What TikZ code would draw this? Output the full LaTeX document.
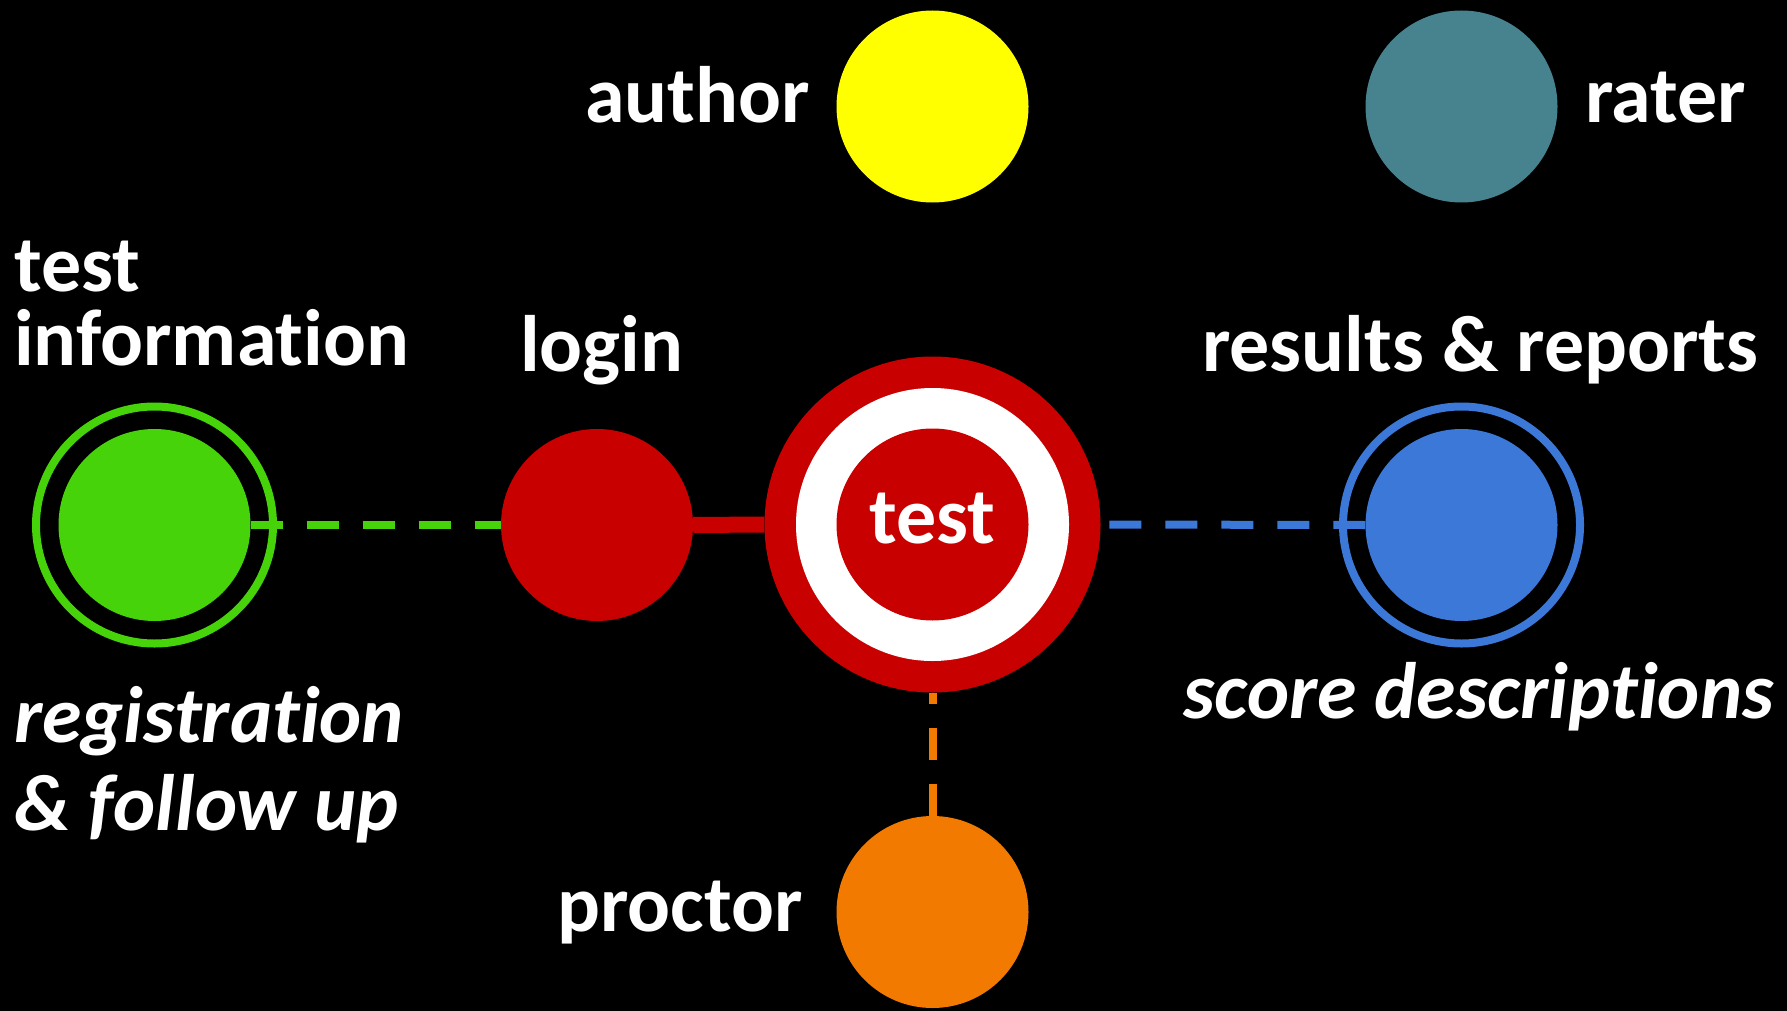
\documentclass[tikz,border=0pt]{standalone}
\usepackage{fontspec}
\setmainfont{Carlito}[Ligatures={NoCommon}]
\definecolor{cgreen}{RGB}{71,211,10}
\definecolor{cred}{RGB}{200,0,0}
\definecolor{cyellow}{RGB}{255,255,0}
\definecolor{cteal}{RGB}{70,131,142}
\definecolor{cblue}{RGB}{59,120,216}
\definecolor{corange}{RGB}{242,122,0}
\tikzset{
  dot/.style={circle,inner sep=0pt,minimum size=192pt,draw=none,fill=#1},
  ring/.style={circle,inner sep=0pt,minimum size=237pt,draw=#1,line width=8pt},
  lbl/.style={text=white,font=\fontsize{80}{74}\selectfont\bfseries,anchor=base west,inner sep=0pt,align=left},
  ilbl/.style={lbl,font=\fontsize{80}{88}\selectfont\bfseries\itshape},
  dashlink/.style={draw=#1,line width=8pt,dash pattern=on 32pt off 24pt},
}
\begin{document}
\begin{tikzpicture}[x=1pt,y=-1pt]
\fill[black] (0,0) rectangle (1787,1011);
\useasboundingbox (0,0) rectangle (1787,1011);
% nodes
\node[dot=cyellow] (author) at (932.5,106.5) {};
\node[dot=cteal] (rater) at (1461.5,106.5) {};
\node[ring=cgreen] (greenring) at (154.5,525) {};
\node[dot=cgreen] (info) at (154.5,525) {};
\node[dot=cred] (login) at (597,525) {};
\node[circle,inner sep=0pt,minimum size=336pt,fill=cred] (testouter) at (932.5,524.5) {};
\node[circle,inner sep=0pt,minimum size=273pt,fill=white] (testring) at (932.5,524.5) {};
\node[dot=cred] (test) at (932.5,524.5) {};
\node[ring=cblue] (bluering) at (1461.5,525) {};
\node[dot=cblue] (results) at (1461.5,525) {};
\node[dot=corange] (proctor) at (932.5,912) {};
% connectors
\draw[dashlink=cgreen] (info.east) -- (login.west);
\draw[draw=cred,line width=16pt] (login.east) -- (testouter.west);
\draw[dashlink=cblue] (results.west) -- (testouter.east);
\draw[dashlink=corange] (proctor.north) -- (testouter.south);
% labels
\node[lbl] (lauthor) at (585,123) {author};
\node[lbl] (lrater) at (1585,123) {rater};
\node[lbl] (llogin) at (520,371) {login};
\node[lbl] (linfo) at (14,365) {test\\information};
\node[lbl] (lresults) at (1202,371) {results \& reports};
\node[lbl,anchor=base] (ltest) at (932.5,543) {test};
\node[lbl] (lproctor) at (557,931) {proctor};
\node[ilbl] (lreg) at (14,830) {registration\\\& follow up};
\node[ilbl] (lscore) at (1183,718) {score descriptions};
\end{tikzpicture}
\end{document}
